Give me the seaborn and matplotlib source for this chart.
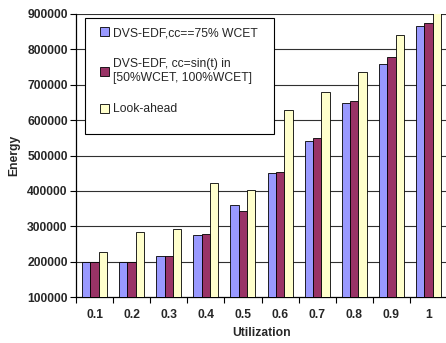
import numpy as np
import pandas as pd
import matplotlib
matplotlib.use("Agg")
import matplotlib.pyplot as plt
import seaborn as sns
from matplotlib.patches import Rectangle
from matplotlib.ticker import FixedLocator

utilization = ["0.1", "0.2", "0.3", "0.4", "0.5", "0.6", "0.7", "0.8", "0.9", "1"]
series_names = [
    "DVS-EDF,cc==75% WCET",
    "DVS-EDF, cc=sin(t) in\n[50%WCET, 100%WCET]",
    "Look-ahead",
]
dvs_edf_75 = [200000, 200000, 215000, 274000, 361000, 450000, 542000, 649000, 760000, 867000]
dvs_edf_sin = [200000, 200000, 217000, 277000, 343000, 453000, 550000, 655000, 778000, 875000]
look_ahead = [226000, 283000, 292000, 422000, 403000, 629000, 680000, 737000, 841000, 905000]
colors = ["#9999FF", "#993366", "#FFFFCC"]
y_ticks = [100000, 200000, 300000, 400000, 500000, 600000, 700000, 800000, 900000]

df = pd.DataFrame({
    "Utilization": utilization * 3,
    "Energy": dvs_edf_75 + dvs_edf_sin + look_ahead,
    "Series": [s for s in series_names for _ in utilization],
})

sns.set_style("white")
plt.rcParams["font.family"] = ["Liberation Sans", "DejaVu Sans"]

W, H = 446, 343
fig = plt.figure(figsize=(W / 100, H / 100), dpi=100)
ax = fig.add_axes([76 / W, 46 / H, 371 / W, 283 / H])

sns.barplot(
    data=df, x="Utilization", y="Energy", hue="Series",
    hue_order=series_names, order=utilization, palette=colors,
    width=0.675, gap=0, edgecolor="black", linewidth=0.6,
    saturation=1, ax=ax, zorder=3, err_kws={"linewidth": 0},
)

fs = 8.7
ax.set_ylim(100000, 900000)
ax.set_xlim(-0.5, len(utilization) - 0.5)
ax.set_yticks(y_ticks)
ax.set_yticklabels([str(v) for v in y_ticks], fontsize=fs, fontweight="bold")
ax.set_xticks(range(len(utilization)))
ax.set_xticklabels(utilization, fontsize=fs, fontweight="bold")
ax.xaxis.set_minor_locator(FixedLocator(np.arange(-0.5, len(utilization), 1.0)))
ax.tick_params(axis="x", which="major", length=0, pad=9)
ax.tick_params(axis="x", which="minor", length=4, width=0.8, color="black", direction="out", bottom=True)
ax.tick_params(axis="y", length=4, width=0.8, color="black", direction="out", left=True, pad=2)

for v in y_ticks[1:]:
    ax.axhline(v, color="#303030", linewidth=0.8, zorder=1)

for side in ["top", "right"]:
    ax.spines[side].set_visible(False)
for side in ["left", "bottom"]:
    ax.spines[side].set_color("black")
    ax.spines[side].set_linewidth(0.9)

ax.set_xlabel("Utilization", fontsize=fs, fontweight="bold", labelpad=4)
ax.set_ylabel("Energy", fontsize=fs, fontweight="bold", labelpad=5)

# Legend: white boxed panel in the upper left of the plot area
handles, labels = ax.get_legend_handles_labels()
ax.get_legend().remove()

box = Rectangle((85 / W, 1 - 134 / H), (274 - 85) / W, (134 - 18) / H,
                transform=fig.transFigure, facecolor="white",
                edgecolor="black", linewidth=0.8, zorder=4)
fig.patches.append(box)

leg = fig.legend(
    handles, labels, loc="upper left", bbox_to_anchor=(100 / W, 1 - 27 / H),
    fontsize=fs, frameon=False, handlelength=0.75, handleheight=0.75,
    handletextpad=0.3, labelspacing=1.6, borderpad=0, borderaxespad=0,
)
leg.set_zorder(5)
for h in leg.legend_handles:
    h.set_edgecolor("black")
    h.set_linewidth(0.6)

fig.savefig("out.png", dpi=100)
